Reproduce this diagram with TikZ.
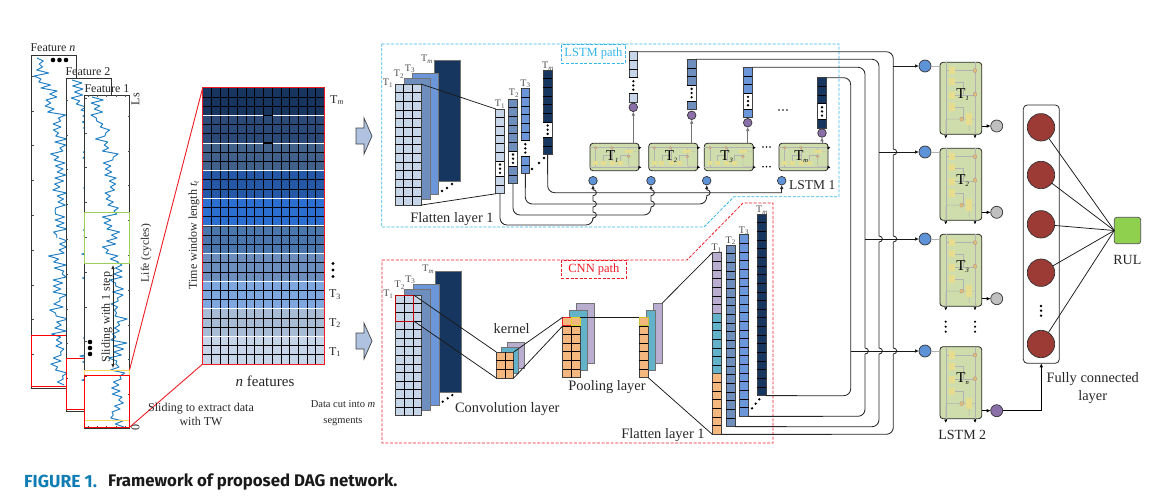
\documentclass[tikz,border=0pt]{standalone}
\usepackage{fontspec}
\setmainfont{Liberation Serif}
\newfontfamily\capfont{Fira Sans}
\usetikzlibrary{arrows.meta,calc}
\definecolor{navy}{HTML}{17365F}
\definecolor{tone}{HTML}{C6D5E7}
\definecolor{ttwo}{HTML}{6E8FBE}
\definecolor{tthree}{HTML}{6B96DA}
\definecolor{cyanpath}{HTML}{35B6EA}
\definecolor{redpath}{HTML}{EE1C25}
\definecolor{cellgreen}{HTML}{CFDCAB}
\definecolor{cellyellow}{HTML}{E6DE8E}
\definecolor{bluedot}{HTML}{5F93D8}
\definecolor{purpledot}{HTML}{8B6FA8}
\definecolor{graydot}{HTML}{BFBFBF}
\definecolor{orangec}{HTML}{F4B77D}
\definecolor{tealc}{HTML}{62B3C9}
\definecolor{purplec}{HTML}{B9AED0}
\definecolor{brick}{HTML}{9C3A35}
\definecolor{rulg}{HTML}{8FD14F}
\definecolor{sig}{HTML}{1F7FC4}
\definecolor{capblue}{HTML}{0F7DB4}
\definecolor{bigarrow}{HTML}{AFC3E0}
\tikzset{
  x=1pt,y=-1pt,
  lab/.style={font=\fontsize{12}{13}\selectfont,inner sep=0pt,text=black!85},
  labb/.style={font=\fontsize{14.4}{15}\selectfont,inner sep=0pt,text=black!85},
  labs/.style={font=\fontsize{10}{10}\selectfont,inner sep=0pt,text=black!70},
  cellbox/.style={draw=black!75,line width=.7pt,inner sep=0pt,outer sep=0pt,rectangle},
  gridline/.style={draw=black,line width=.7pt},
  wire/.style={draw=black!85,line width=.85pt,rounded corners=7pt},
  link/.style={draw=black!90,line width=.75pt},
  tipwire/.style={draw=black!85,line width=.85pt,-{Latex[length=4pt,width=3.6pt]}},
  gtip/.style={draw=black!55,line width=.7pt,-{Latex[length=4pt,width=3.6pt]}},
  dotc/.style={circle,draw=black!80,line width=.7pt,minimum size=#1,inner sep=0pt,outer sep=0pt},
  bdot/.style={fill=black,circle,inner sep=0pt,minimum size=2.6pt},
  ldot/.style={fill=black,circle,inner sep=0pt,minimum size=5.6pt},
  stackb/.style={draw=black!55,line width=.6pt,inner sep=0pt,outer sep=0pt,anchor=north west},
  panel/.style={draw=black!80,line width=.8pt,fill=white},
  tickm/.style={draw=black!70,line width=.5pt},
  sigl/.style={draw=sig,line width=.95pt,line join=round},
  pathbox/.style={dashed,dash pattern=on 3pt off 1.6pt,line width=.8pt},
  lstmc/.style={draw=black!85,line width=.8pt,fill=cellgreen,rounded corners=3pt,inner sep=0,outer sep=0},
  faint/.style={draw=black!30,line width=.45pt},
  fyel/.style={fill=cellyellow,draw=none},
  fcirc/.style={draw=red!40!black!45,line width=.3pt,fill=orange!30!cellgreen},
  bigarr/.style={draw=black!75,fill=bigarrow,line width=.7pt},
}
\newcommand\gridblock[8]{% name,x,y,cols,rows,cw,ch,color
  \pgfmathsetmacro\gw{#4*#6}\pgfmathsetmacro\gh{#5*#7}%
  \pgfmathsetmacro\gy{#3}%
  \node[cellbox,fill=#8,minimum width=\gw pt,minimum height=\gh pt,anchor=north west] (#1) at (#2,\gy) {};%
  \pgfmathtruncatemacro\ncolm{#4-1}\pgfmathtruncatemacro\nrowm{#5-1}%
  \ifnum\ncolm>0 \foreach \i in {1,...,\ncolm}{\draw[gridline] ({#2+\i*#6},\gy) -- ({#2+\i*#6},{\gy+\gh});}\fi
  \ifnum\nrowm>0 \foreach \i in {1,...,\nrowm}{\draw[gridline] (#2,{\gy+\i*#7}) -- ({#2+\gw},{\gy+\i*#7});}\fi
}
\newcommand\stripdots[6]{% name,x,y,n1,n2,color
  \pgfmathsetmacro\sth{(#4+1.8+#5)*8.65}%
  \node[cellbox,fill=#6,minimum width=8.67pt,minimum height=\sth pt,anchor=north west] (#1) at (#2,#3) {};%
  \foreach \i in {1,...,#4}{\draw[gridline] (#2,{#3+\i*8.65}) -- ({#2+8.67},{#3+\i*8.65});}%
  \pgfmathsetmacro\dty{#3+#4*8.65}%
  \fill[white] (#2,\dty) rectangle ({#2+8.67},{\dty+15.6});%
  \draw[gridline] (#2,\dty) -- ({#2+8.67},\dty) (#2,{\dty+15.6}) -- ({#2+8.67},{\dty+15.6});%
  \fill ({#2+4.33},{\dty+3.6}) circle (1.3) ({#2+4.33},{\dty+7.8}) circle (1.3) ({#2+4.33},{\dty+12}) circle (1.3);%
  \ifnum#5>1 \draw[gridline] (#2,{\dty+15.6+8.65}) -- ({#2+8.67},{\dty+15.6+8.65});\fi
}
% local sketch of an LSTM cell: a along flow (0..1), b across (0..1)
\newcommand\cellsketch{%
  \draw[faint] (0,.16) -- (1,.16) (0,.86) -- (1,.86);
  \draw[faint] (.116,.86) -- (.116,.16) (.27,.7) -- (.27,.45) -- (.45,.45)  (.458,.7) -- (.458,.16) (.62,.7) -- (.62,.45) -- (.79,.45);
  \draw[faint,rounded corners=1.5pt] (.79,.16) -- (.79,.86) -- (1,.86) (.79,.3) -- (.96,.3);
  \foreach \a in {.116,.27,.458,.62}{\fill[fyel] ({\a-.05},.63) rectangle ({\a+.05},.78);}
  \fill[fyel] (.71,.23) rectangle (.87,.37);
  \foreach \a/\b in {.116/.16,.444/.16,.79/.48}{\draw[fcirc] (\a,\b) ellipse[x radius=.028,y radius=.045];}
}
\newcommand\hopu[2]{-- (#1,{#2+3}) .. controls ({#1+4.5},{#2+3}) and ({#1+4.5},{#2-3}) .. (#1,{#2-3})}
% signal: y0, samples, expression for the centre in \sk, amplitude
\newcommand\signal[4]{%
  \def\sk{0}%
  \draw[sigl] ({#3},#1) \foreach \sk in {1,...,#2}{
    -- ({#3+3*sin(mod(\sk*41,360))+2*sin(mod(\sk*97,360))+#4*(2*mod(\sk,2)-1)*(.1+.9*rnd)},{#1+\sk*3})};
}
\begin{document}
\begin{tikzpicture}
\useasboundingbox (0,0) rectangle (1170,501);
\pgfmathsetseed{4711}
% --------------- feature panels
\draw[panel] (31.7,55) rectangle (76.7,388);
\foreach \tk in {0,...,8}{\draw[tickm] (31.7,{76+\tk*34.8}) -- ++(2,0);}
\signal{58}{60}{37+22*min(1,\sk/22)}{7}
\signal{238}{49}{59}{7}
\draw[red,line width=.8pt] (31.7,335) rectangle (76.7,386);
\draw[panel] (66.3,78) rectangle (111.7,411.7);
\foreach \tk in {0,...,8}{\draw[tickm] (66.3,{100+\tk*34.8}) -- ++(2,0);}
\signal{80}{60}{72+18*min(1,\sk/16)}{7}
\signal{260}{49}{90}{7}
\draw[red,line width=.8pt] (66.3,358) rectangle (111.7,409);
\draw[panel] (84.5,95) rectangle (129.5,428);
\foreach \tk in {0,...,8}{\draw[tickm] (129.5,{116+\tk*34.8}) -- ++(-2,0);\draw[tickm] (84.5,{98+\tk*34.8}) -- ++(2,0);}
\foreach \tk in {0,...,4}{\draw[tickm] ({88+\tk*9.3},95) -- ++(0,2);\draw[tickm] ({88+\tk*9.3},428) -- ++(0,-2);}
\signal{97}{55}{92+18*min(1,\sk/20)+7*max(0,min(1,(\sk-50)/10))}{6.5}
\signal{262}{55}{117}{6.5}
\draw[draw={rgb,255:red,156;green,207;blue,90},line width=.8pt] (84.5,212) rectangle (129.5,263);
\draw[draw={rgb,255:red,250;green,214;blue,90},line width=.9pt] (84.5,370) rectangle (129.5,420.7);
\draw[red,line width=.8pt] (84.5,375) rectangle (129.5,427.3);
\coordinate (slideA) at (113,265);
\coordinate (slideB) at (113,368);
\draw[black!85,line width=.7pt,{Latex[length=4pt,width=3.6pt]}-{Latex[length=4pt,width=3.6pt]}] (slideA) -- (slideB);
\foreach \p in {53,59.5,66}{\node[ldot,minimum size=4.6pt] (dn\p) at (\p,60) {};}
\foreach \p in {342,348,354}{\node[ldot,minimum size=4.6pt] (dm\p) at (90,\p) {};}
\node[lab] (fn) at (53,47.5) {Feature \textit{n}};
\node[lab] (f2) at (88,72) {Feature 2};
\node[lab] (f1) at (107,89) {Feature 1};
\node[lab,rotate=90] (ls) at (135.5,99) {Ls};
\node[lab,rotate=90] (zero) at (135.5,427) {0};
\node[lab,rotate=90,font=\fontsize{11.5}{14}\selectfont] (life) at (146,253) {Life (cycles)};
\node[lab,rotate=90] (slidestep) at (107,317) {Sliding with 1 step};
% --------------- data matrix
\foreach \mi/\hexc in {0/17355F,1/2B4A78,2/41608A,3/2559A8,4/2B6FD0,5/4A76AD,6/6B8EBF,7/7EA7E0,8/A9BCD6,9/C6D5E7}{
  \definecolor{bc}{HTML}{\hexc}
  \gridblock{mblock\mi}{202.7}{87.7+\mi*27.63}{14}{3}{8.69}{9.21}{bc}
}
\foreach \mi in {1,...,9}{\draw[white,line width=.9pt] (202.7,{87.7+\mi*27.63}) -- (324.3,{87.7+\mi*27.63});}
\foreach \y in {115.3,124.5,133.7,143}{\draw[black,line width=1pt] (263.5,\y) rectangle (272.2,{\y+9.2});}
\draw[black,line width=1pt] (263.5,290) rectangle (272.2,299);
\node[draw=redpath,line width=1pt,inner sep=0,outer sep=0,minimum width=121.6pt,minimum height=276.3pt,anchor=north west] (mat) at (202.7,87.7) {};
\coordinate (wintop) at (129.5,370);
\coordinate (winbot) at (129.5,427.3);
\draw[redpath,line width=.9pt] (mat.north west) -- (wintop);
\draw[redpath,line width=.9pt] (mat.south west) -- (winbot);
\node[lab] (mTm) at (337,100) {T\textsubscript{\itshape m}};
\foreach \p in {263.5,270,276.5}{\node[ldot,minimum size=3.2pt] (md\p) at (333,\p) {};}
\node[lab] (mT3) at (335,295) {T\textsubscript{3}};
\node[lab] (mT2) at (335,323) {T\textsubscript{2}};
\node[lab] (mT1) at (335,352) {T\textsubscript{1}};
\node[lab,rotate=90] (twl) at (194,235) {Time window length \textit{t\textsubscript{t}}};
\node[labb,font=\fontsize{15}{16}\selectfont] (nf) at (265,381) {\textit{n} features};
\node[lab,align=center] (s2e) at (201,414) {Sliding to extract data\\[1pt]with TW};
\node[lab,align=center,font=\fontsize{10.5}{16}\selectfont] (cut) at (343,413) {Data cut into \textit{m}\\segments};
\draw[bigarr] (356,128) -- (364,128) -- (364,118) -- (372,136) -- (364,154) -- (364,144) -- (356,144) -- cycle;
\draw[bigarr] (356,333) -- (364,333) -- (364,323) -- (372,341) -- (364,359) -- (364,349) -- (356,349) -- cycle;
% --------------- path frames
\draw[cyanpath,pathbox] (381.7,44) -- (839,44) -- (839,196.7) -- (734,196.7) -- (704,227) -- (381.7,227) -- cycle;
\node[draw=cyanpath,pathbox,minimum width=64pt,minimum height=19pt,anchor=north west,inner sep=0pt] (lstmtag) at (561,44) {};
\node[lab,text=cyanpath,font=\fontsize{12.5}{13}\selectfont] at (lstmtag) {LSTM path};
\draw[redpath,pathbox] (382,260) -- (687,260) -- (743,203) -- (773,203) -- (773,443) -- (382,443) -- cycle;
\node[draw=redpath,pathbox,minimum width=65pt,minimum height=18pt,anchor=north west,inner sep=0pt] (cnntag) at (561,260) {};
\node[lab,text=redpath,font=\fontsize{12.5}{13}\selectfont] at (cnntag) {CNN path};
% --------------- LSTM path: stack
\node[stackb,fill=navy,minimum width=26pt,minimum height=121pt] (sA4) at (434,60) {};
\node[stackb,fill=tthree,minimum width=26pt,minimum height=121pt] (sA3) at (412,73) {};
\node[stackb,fill=ttwo,minimum width=26pt,minimum height=121pt] (sA2) at (404,78) {};
\gridblock{sA1}{395}{84}{3}{14}{8.67}{8.65}{tone}
\node[labs] at (388,83) {T\textsubscript{1}};
\node[labs] at (399,74) {T\textsubscript{2}};
\node[labs] at (410,69) {T\textsubscript{3}};
\node[labs] at (427,59) {T\textsubscript{\itshape m}};
\foreach \a/\b in {442/191,447/188,452/184}{\node[bdot] (ds\a) at (\a,\b) {};}
% flatten strips
\stripdots{fA1}{495.7}{109}{6}{2}{tone}
\stripdots{fA2}{508.7}{99}{6}{2}{ttwo}
\stripdots{fA3}{521}{88.7}{6}{2}{tthree}
\stripdots{fA4}{543.3}{70}{6}{2}{navy}
\draw[link] (sA1.north east) -- (fA1.north west);
\draw[link] (sA1.south east) -- (fA1.south west);
\node[labs] at (500,104) {T\textsubscript{1}};
\node[labs] at (514,93) {T\textsubscript{2}};
\node[labs] at (525.5,84) {T\textsubscript{3}};
\node[labs] at (548,66) {T\textsubscript{\itshape m}};
\foreach \a/\b in {532/169,539/163,544/158}{\node[bdot] (df\a) at (\a,\b) {};}
\node[labb] (fl1) at (452,219) {Flatten layer 1};
% output strips
\stripdots{oA1}{629}{51.7}{3}{1}{tone}
\stripdots{oA2}{687.3}{59.3}{3}{1}{ttwo}
\stripdots{oA3}{743.7}{67.3}{3}{1}{tthree}
\stripdots{oA4}{817.7}{77.7}{3}{1}{navy}
% LSTM 1 cells
\foreach \n/\xa/\lbl in {1/590/1,2/648.7/2,3/704.3/3,4/779/m}{
  \node[lstmc,minimum width=49pt,minimum height=27.4pt,anchor=north west] (cell\n) at (\xa,143.3) {};
  \begin{scope}[x={(49pt,0pt)},y={(0pt,-27.4pt)},shift={(\xa pt,-143.3pt)}]\cellsketch\end{scope}
  \node[lab,font=\fontsize{15}{15}\selectfont,text=black] (celltxt\n) at ($(cell\n)+(-2,0)$) {T\textsubscript{\fontsize{6.5}{7}\selectfont\itshape\lbl}};
  \draw[black,{Latex[length=3pt,width=3pt]}-] ($(cell\n.north east)+(2.5,4.4)$) -- +(-2,0);
  \draw[black,{Latex[length=3pt,width=3pt]}-] ($(cell\n.north east)+(2.5,24)$) -- +(-2,0);
}
\foreach \n/\xa/\yy in {1/593/180.7,2/651/180.7,3/706.7/180.7,4/781.7/180.7}{\node[dotc=8.6pt,fill=bluedot] (in\n) at (\xa,\yy) {};}
\foreach \n/\xa/\yy in {1/633.3/107.3,2/691.7/115.3,3/747.7/122.7,4/822/133}{\node[dotc=8.6pt,fill=purpledot] (out\n) at (\xa,\yy) {};}
\foreach \n in {1,2,3,4}{\draw[gtip] (out\n.south |- cell\n.north) -- (out\n.south);}
\foreach \y in {147,166.7}{\foreach \x in {763,766.5,770}{\fill (\x,\y) circle (.9);}}
\foreach \x in {779,783,787}{\fill (\x,110) circle (.9);}
\node[labb,anchor=west,font=\fontsize{13.5}{15}\selectfont] (lstm1) at (789,185) {LSTM 1};
% LSTM 1 wires
\draw[wire] (fA4.south) -- (547.7,192.7) -- (781.7,192.7);
\draw[tipwire] (781.7,192.7) -- (in4.south);
\draw[wire] (fA3.south) -- (525.3,204) -- (706.7,204) -- (706.7,197);
\draw[tipwire] (706.7,197) \hopu{706.7}{192.7} -- (in3.south);
\draw[wire] (fA2.south) -- (513,215) -- (651,215) -- (651,208);
\draw[tipwire] (651,208) \hopu{651}{204} \hopu{651}{192.7} -- (in2.south);
\draw[wire] (fA1.south) -- (500,225) -- (593,225) -- (593,219);
\draw[tipwire] (593,219) \hopu{593}{215} \hopu{593}{204} \hopu{593}{192.7} -- (in1.south);
% --------------- CNN path: stack
\node[stackb,fill=navy,minimum width=26pt,minimum height=120.6pt] (sB4) at (435,271.7) {};
\node[stackb,fill=tthree,minimum width=26pt,minimum height=120.6pt] (sB3) at (413,284.7) {};
\node[stackb,fill=ttwo,minimum width=26pt,minimum height=120.6pt] (sB2) at (404.3,289.7) {};
\gridblock{sB1}{395.7}{295}{3}{14}{8.67}{8.62}{tone}
\node[draw=red!75!black,line width=1pt,inner sep=0,outer sep=0,minimum width=18pt,minimum height=26pt,anchor=north west] (kern) at (395.7,295) {};
\node[labs] at (388.3,294) {T\textsubscript{1}};
\node[labs] at (399.7,285) {T\textsubscript{2}};
\node[labs] at (410.3,280) {T\textsubscript{3}};
\node[labs] at (428.3,269.3) {T\textsubscript{\itshape m}};
\foreach \a/\b in {442.7/401.7,447.7/398.3,452.3/395}{\node[bdot] (dc\a) at (\a,\b) {};}
% kernel block
\node[stackb,fill=purplec,minimum width=17.3pt,minimum height=26.3pt] (kC) at (507,342) {};
\node[stackb,fill=tealc,minimum width=17.4pt,minimum height=26pt] (kB) at (501.3,347.3) {};
\gridblock{kA}{496.3}{352}{2}{3}{8.7}{8.67}{orangec}
\draw[link] (kern.north east) -- (kA.north west);
\draw[link] (kern.south east) -- (kA.south west);
\node[labb] (kl) at (511.7,329) {kernel};
\node[labb] (convl) at (507.3,409) {Convolution layer};
% pooling
\node[stackb,fill=purplec,minimum width=17.6pt,minimum height=60.4pt] (pC) at (576.7,303.3) {};
\node[stackb,fill=tealc,minimum width=17.6pt,minimum height=60.4pt] (pB) at (569.7,310.3) {};
\gridblock{pA}{562.7}{317.3}{2}{7}{8.8}{8.63}{orangec}
\node[draw=redpath,line width=.9pt,inner sep=0,outer sep=0,minimum width=8.8pt,minimum height=8.63pt,anchor=north west] (pr) at (562.7,317.3) {};
\node[draw=yellow!85!black,line width=.9pt,inner sep=0,outer sep=0,minimum width=8.8pt,minimum height=8.63pt,anchor=north west] (py) at (571.5,317.3) {};
\draw[link] (kA.north east) -- (pr.north west);
\draw[link] (kA.south east) -- (pr.south west);
\node[labb] (pooll) at (607,387) {Pooling layer};
% pooled single column
\node[stackb,fill=purplec,minimum width=9pt,minimum height=60.4pt] (qC) at (653,303.3) {};
\node[stackb,fill=tealc,minimum width=9pt,minimum height=60.4pt] (qB) at (646,310.3) {};
\gridblock{qA}{639.2}{317.3}{1}{7}{9.1}{8.63}{orangec}
\node[draw=yellow!75!black,line width=.9pt,fill=orangec,inner sep=0,outer sep=0,minimum width=9.1pt,minimum height=8.63pt,anchor=north west] (qy) at (639.2,317.3) {};
\draw[link] (py.north east) -- (qy.north west);
% flatten CNN
\gridblock{cT1a}{712.3}{252.7}{1}{7}{8.8}{8.65}{purplec}
\gridblock{cT1b}{712.3}{313.25}{1}{7}{8.8}{8.65}{tealc}
\gridblock{cT1c}{712.3}{373.8}{1}{7}{8.8}{8.65}{orangec}
\gridblock{cT2}{726}{245}{1}{21}{8.9}{8.65}{ttwo}
\gridblock{cT3}{739.7}{234.7}{1}{21}{8.9}{8.65}{tthree}
\gridblock{cT4}{757.3}{214}{1}{21}{8.9}{8.65}{navy}
\draw[link] (qC.north east) -- (cT1a.north west);
\draw[link] (qA.south east) -- (cT1c.south west);
\node[labs] at (716.7,248) {T\textsubscript{1}};
\node[labs] at (730.7,240.7) {T\textsubscript{2}};
\node[labs] at (744,230.7) {T\textsubscript{3}};
\node[labs] at (762,210) {T\textsubscript{\itshape m}};
\foreach \a/\b in {752/408.3,755.7/403.7,759.3/399.3}{\node[bdot] (dd\a) at (\a,\b) {};}
\node[labb] (fl2) at (663,435) {Flatten layer 1};
% --------------- LSTM 2
\foreach \n/\yy/\lbl in {1/62.3/1,2/148.3/2,3/234.3/3,4/346.7/n}{
  \node[lstmc,minimum width=41.7pt,minimum height=72pt,anchor=north west] (vcell\n) at (940,\yy) {};
  \begin{scope}[x={(0pt,-72pt)},y={(-41.7pt,0pt)},shift={(981.7pt,-\yy pt)}]\cellsketch\end{scope}
  \node[lab,font=\fontsize{15}{15}\selectfont,text=black] (vtxt\n) at ($(vcell\n)+(2,-4)$) {T\textsubscript{\fontsize{6.5}{7}\selectfont\itshape\lbl}};
  \draw[black,-{Latex[length=3pt,width=3pt]}] ($(vcell\n.south west)+(5.7,.5)$) -- +(0,3.5);
  \draw[black,-{Latex[length=3pt,width=3pt]}] ($(vcell\n.south west)+(35,.5)$) -- +(0,3.5);
}
\foreach \n/\yy in {1/66,2/152,3/239,4/351}{\node[dotc=12pt,fill=bluedot] (vin\n) at (925,\yy) {};
  \draw[faint,line width=.8pt] (vin\n.east) -- (vin\n.east -| vcell\n.west);}
\foreach \n/\yy in {1/126,2/212.3,3/298.7}{\node[dotc=12pt,fill=graydot] (vout\n) at (996.7,\yy) {};
  \draw[black,line width=.7pt,-{Latex[length=4pt,width=3.6pt]}] (vcell\n.east |- vout\n) -- (vout\n.west);}
\node[dotc=12pt,fill=purpledot] (vout4) at (996.7,410.7) {};
\draw[black,line width=.7pt,-{Latex[length=4pt,width=3.6pt]}] (vcell4.east |- vout4) -- (vout4.west);
\foreach \x in {945.7,975}{\foreach \y in {321.7,326.7,331.7}{\fill (\x,\y) circle (1.2);}}
\node[lab,font=\fontsize{14}{15}\selectfont] (lstm2) at (962.3,435) {LSTM 2};
% long wires
\draw[wire] (oA1.north east) -- (893.3,51.7) -- (893.3,434.3) -- (cT1c.south east);
\draw[wire] (oA2.north east) -- (879,59.3) -- (879,426.7) -- (cT2.south east);
\draw[wire] (oA3.north east) -- (865,67.3) -- (865,416.3) -- (cT3.south east);
\draw[wire] (oA4.north east) -- (850.7,77.7) -- (850.7,395.7) -- (cT4.south east);
\foreach \x/\y in {893.3/152,893.3/239,879/239,893.3/351,879/351,865/351}{
  \fill[white] ({\x-1},{\y-3.2}) rectangle ({\x+1},{\y+3.2});
  \draw[black!85,line width=.85pt] (\x,{\y-3}) .. controls ({\x+4.5},{\y-3}) and ({\x+4.5},{\y+3}) .. (\x,{\y+3});}
\draw[black!90,line width=.85pt,-{Latex[length=4pt,width=3.6pt]}] (893.3,66) -- (vin1.west);
\draw[black!90,line width=.85pt,-{Latex[length=4pt,width=3.6pt]}] (879,152) -- (vin2.west);
\draw[black!90,line width=.85pt,-{Latex[length=4pt,width=3.6pt]}] (865,239) -- (vin3.west);
\draw[black!90,line width=.85pt,-{Latex[length=4pt,width=3.6pt]}] (850.7,351) -- (vin4.west);
% --------------- fully connected
\node[draw=black!85,line width=.8pt,rounded corners=4pt,minimum width=36pt,minimum height=258.3pt,anchor=north west,inner sep=0,outer sep=0] (fc) at (1023.3,105) {};
\foreach \n/\yy in {1/127.3,2/175,3/224.3,4/272.7,5/344}{\node[dotc=27.4pt,fill=brick] (fcn\n) at (1041,\yy) {};}
\foreach \y in {306,310.7,315.7}{\fill (1041,\y) circle (1.3);}
\node[draw=black!70,line width=.7pt,fill=rulg,rounded corners=2.5pt,minimum size=26.4pt,anchor=north west,inner sep=0,outer sep=0] (rul) at (1114.3,217.3) {};
\foreach \n in {1,...,5}{\draw[link] (fcn\n) -- (rul.west);}
\node[lab,font=\fontsize{14}{15}\selectfont] (rult) at (1127.3,260) {RUL};
\node[lab,align=center,font=\fontsize{14.4}{17.5}\selectfont] (fclab) at (1092.7,388) {Fully connected\\layer};
\draw[black,line width=.8pt,-{Latex[length=4pt,width=3.6pt]}] (vout4.east) -| (fc.south);
% caption
\node[anchor=west,inner sep=0pt,font=\capfont\bfseries\fontsize{17.5}{19}\selectfont,text=capblue] (figlab) at (24,481.5) {FIGURE 1.};
\node[anchor=west,inner sep=0pt,font=\capfont\bfseries\fontsize{16.8}{19}\selectfont,text=black!90] (figcap) at (108,481.5) {Framework of proposed DAG network.};
\end{tikzpicture}
\end{document}
